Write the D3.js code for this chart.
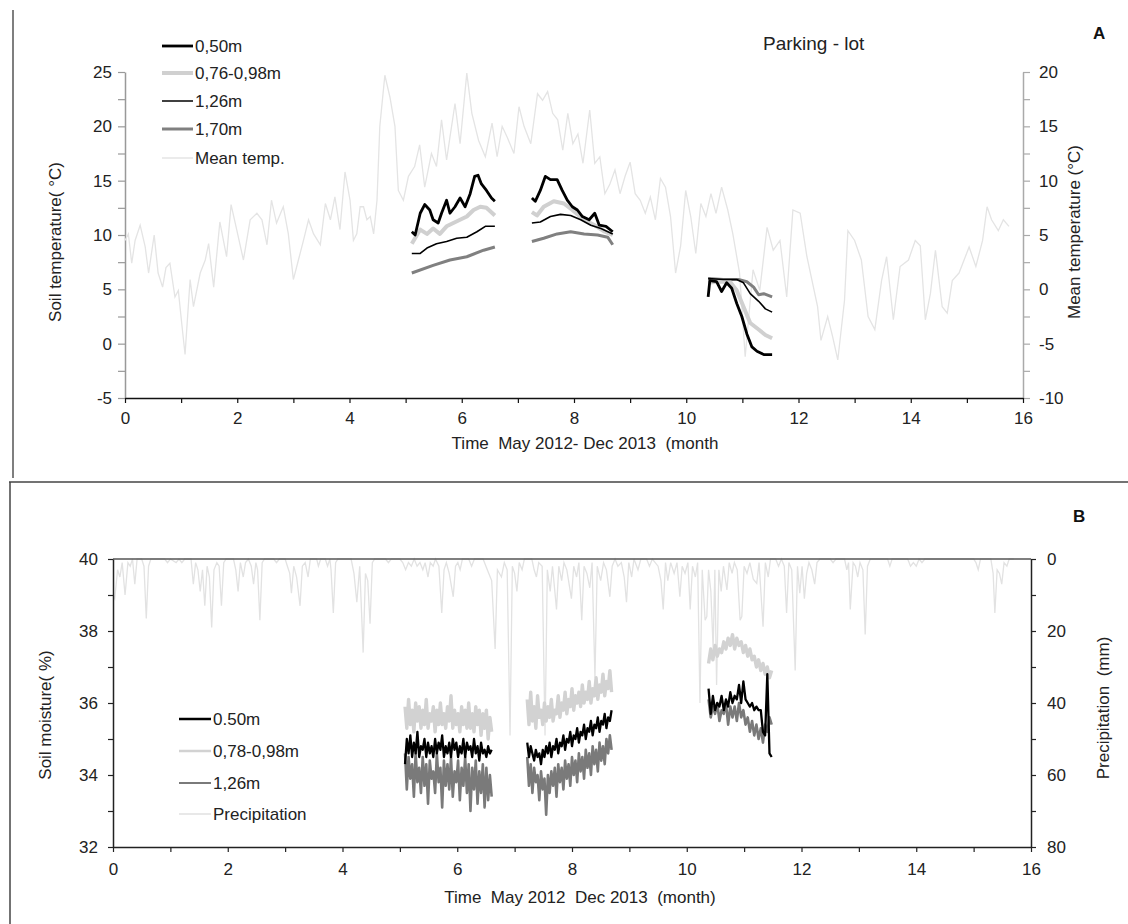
<!DOCTYPE html>
<html><head><meta charset="utf-8">
<script src="https://cdn.jsdelivr.net/npm/d3@7"></script>
<style>
body{margin:0;background:#fff;}
svg{display:block;font-family:"Liberation Sans",Arial,sans-serif;}
</style></head>
<body><svg id="chart" width="1128" height="924"></svg>
<script>
// ---------- DATA ----------
// Panel A: mean air temperature (right axis, °C) [month, value]
const meanTemp = [[0,4.5],[0.06,5.1],[0.12,2.4],[0.18,4.5],[0.27,5.9],[0.36,3.9],[0.42,1.5],[0.52,5],[0.59,1.5],[0.67,0.2],[0.73,2.0],[0.80,2.4],[0.89,-0.7],[0.95,-0.1],[1.01,-3.1],[1.07,-6.0],[1.16,0.9],[1.22,-1.6],[1.34,1.5],[1.43,2.7],[1.49,4.2],[1.58,0.2],[1.69,6.2],[1.81,3],[1.89,7.8],[1.99,5.5],[2.11,2.7],[2.23,6.4],[2.35,7],[2.44,6.4],[2.53,4.1],[2.61,8.2],[2.70,6.1],[2.82,7.6],[2.91,5.1],[3.0,0.9],[3.09,2.7],[3.18,4.5],[3.27,6.4],[3.36,5.1],[3.48,4.1],[3.57,7.9],[3.66,6.4],[3.74,8.5],[3.83,5.5],[3.92,10.8],[4.01,8.2],[4.07,4.5],[4.13,5.1],[4.19,7.6],[4.25,7.6],[4.31,6.4],[4.37,6.7],[4.43,5.1],[4.49,8.2],[4.54,15],[4.63,19.7],[4.72,17.7],[4.81,15],[4.87,9.1],[4.96,8.2],[5.05,10.4],[5.16,11.3],[5.25,13.3],[5.34,9.4],[5.46,12.5],[5.55,11.3],[5.64,15.6],[5.73,11.9],[5.79,14],[5.88,17.1],[5.97,13.4],[6.09,19.9],[6.18,16.2],[6.30,13.7],[6.42,12.2],[6.54,15.3],[6.63,12.2],[6.72,15],[6.81,14],[6.93,12.5],[7.02,16.8],[7.11,15],[7.23,13.4],[7.35,18],[7.44,17.4],[7.53,18.2],[7.62,16.2],[7.71,15.6],[7.80,12.8],[7.89,16.2],[7.98,13.4],[8.07,14.3],[8.16,11.6],[8.28,16.5],[8.37,11.6],[8.46,12.2],[8.55,8.8],[8.64,9.7],[8.73,11],[8.82,8.8],[8.91,10.4],[9.0,11.7],[9.09,8.8],[9.18,8.2],[9.27,7],[9.36,8.5],[9.45,6.4],[9.54,10.2],[9.63,9.4],[9.72,6.7],[9.81,1.5],[9.90,4],[9.99,9.1],[10.08,6.7],[10.17,3.3],[10.26,7.9],[10.35,6.7],[10.44,8.8],[10.53,7],[10.63,9.4],[10.74,7.3],[10.83,5.1],[10.95,1.5],[11.05,-6.2],[11.19,1.8],[11.31,-0.1],[11.44,5.7],[11.55,3.6],[11.67,4.5],[11.79,-0.7],[11.9,7.3],[12.03,7],[12.15,3],[12.34,-1.6],[12.40,-4.7],[12.52,-2.5],[12.61,-4.4],[12.70,-6.5],[12.82,-1],[12.88,5.4],[13.0,4.5],[13.12,2.7],[13.24,-2.5],[13.36,-3.7],[13.48,0.8],[13.57,3],[13.69,-2.8],[13.81,2.1],[13.96,2.7],[14.08,4.5],[14.17,4],[14.26,-2.8],[14.35,-0.4],[14.44,3.6],[14.56,-1.6],[14.65,-2.2],[14.74,0.8],[14.86,1.5],[15.04,3.9],[15.16,2.1],[15.28,4.5],[15.36,7.6],[15.44,6.4],[15.56,5.4],[15.65,6.4],[15.75,5.8]];

// Panel A: soil temperature (left axis, °C), segments of [month, value]
const soil050 = [
  [[5.11,10.3],[5.17,10.0],[5.26,12.0],[5.34,12.8],[5.43,12.3],[5.49,11.4],[5.58,11.1],[5.64,12.0],[5.73,13.2],[5.79,12.0],[5.88,12.6],[5.97,13.4],[6.06,12.6],[6.15,13.8],[6.23,15.4],[6.29,15.5],[6.35,14.7],[6.44,14.1],[6.53,13.4],[6.59,13.1]],
  [[7.25,13.4],[7.31,13.1],[7.40,14.1],[7.49,15.4],[7.58,15.1],[7.70,15.1],[7.79,14.1],[7.88,13.2],[7.97,12.6],[8.06,12.3],[8.15,11.7],[8.27,11.4],[8.37,12.0],[8.45,10.9],[8.57,10.8],[8.69,10.3]],
  [[10.39,4.3],[10.42,5.8],[10.54,5.7],[10.63,4.8],[10.72,5.6],[10.81,5.1],[10.90,3.7],[10.99,2.5],[11.08,0.9],[11.17,-0.3],[11.26,-0.7],[11.38,-1.0],[11.53,-1.0]]
];
const soil076 = [
  [[5.11,9.2],[5.26,10.5],[5.38,10.1],[5.49,10.6],[5.61,10.1],[5.73,10.8],[5.85,11.1],[5.97,11.4],[6.09,11.7],[6.21,12.3],[6.33,12.6],[6.44,12.5],[6.59,11.8]],
  [[7.25,12.1],[7.34,11.8],[7.46,12.6],[7.64,13.1],[7.82,12.9],[7.97,12.3],[8.18,11.4],[8.37,10.9],[8.55,10.3],[8.69,10.0]],
  [[10.39,5.6],[10.54,5.7],[10.78,5.7],[10.90,4.9],[11.02,3.4],[11.14,1.9],[11.29,1.3],[11.41,0.8],[11.53,0.5]]
];
const soil126 = [
  [[5.11,8.3],[5.26,8.3],[5.38,8.8],[5.55,9.2],[5.73,9.4],[5.91,9.7],[6.09,9.8],[6.27,10.3],[6.42,10.8],[6.59,10.8]],
  [[7.25,11.1],[7.40,11.2],[7.58,11.7],[7.76,11.9],[7.94,11.8],[8.12,11.4],[8.30,10.9],[8.48,10.6],[8.69,10.1]],
  [[10.39,6.0],[10.66,5.9],[10.90,5.9],[11.02,5.6],[11.14,4.6],[11.29,3.9],[11.41,3.2],[11.53,2.9]]
];
const soil170 = [
  [[5.11,6.5],[5.49,7.2],[5.79,7.7],[6.09,8.0],[6.39,8.6],[6.59,8.9]],
  [[7.25,9.4],[7.46,9.7],[7.70,10.1],[7.94,10.3],[8.18,10.1],[8.42,10.0],[8.60,9.8],[8.69,9.1]],
  [[10.39,6.0],[10.66,5.9],[10.93,5.9],[11.08,5.7],[11.20,5.2],[11.29,4.5],[11.38,4.6],[11.53,4.3]]
];

// Panel B: precipitation (right axis, mm) [month, value]
const precip = [[0,10],[0.03,11],[0.08,3],[0.12,5],[0.16,1],[0.21,10],[0.26,1],[0.30,2],[0.34,0],[0.38,7],[0.42,0],[0.5,0],[0.54,2],[0.58,16.5],[0.62,2],[0.66,0],[0.9,0],[0.95,1],[1.0,0],[1.1,1],[1.15,0],[1.2,1],[1.25,0],[1.36,0],[1.40,7],[1.44,1],[1.48,3],[1.52,9],[1.56,3],[1.60,13],[1.64,2],[1.68,5],[1.72,19],[1.76,3],[1.81,1],[1.85,2],[1.89,13],[1.93,1],[1.97,0],[2.1,0],[2.14,3],[2.18,9],[2.22,1],[2.27,5],[2.31,1],[2.36,0],[2.41,2],[2.45,7],[2.49,1],[2.52,3],[2.56,17],[2.60,1],[2.64,0],[2.8,0],[2.85,1],[2.9,0],[3.0,0],[3.04,2],[3.08,4],[3.11,9.5],[3.15,2],[3.2,5],[3.26,13],[3.3,2],[3.35,1],[3.40,5],[3.44,0],[3.55,0],[3.58,2],[3.62,0],[3.7,0],[3.74,2],[3.78,0],[3.8,3],[3.84,15],[3.88,1],[3.92,0],[4.15,0],[4.2,4],[4.25,12],[4.3,2],[4.36,26],[4.40,4],[4.44,6],[4.48,18],[4.52,1],[4.56,0],[4.75,0],[4.8,1],[4.85,0],[5.0,0],[5.05,1],[5.1,3],[5.15,1],[5.2,2],[5.25,0],[5.3,2],[5.35,1],[5.4,3],[5.44,1],[5.49,5],[5.53,1],[5.58,2],[5.62,0],[5.68,2],[5.73,15],[5.77,3],[5.81,1],[5.86,4],[5.93,10.5],[5.97,2],[6.01,1],[6.05,3],[6.09,0],[6.2,0],[6.25,2],[6.3,0],[6.45,0],[6.5,2],[6.55,4],[6.6,6],[6.66,25],[6.7,3],[6.77,5],[6.82,1],[6.87,3],[6.92,49],[6.96,2],[7.0,4],[7.04,9],[7.08,1],[7.13,3],[7.17,0],[7.3,0],[7.34,3],[7.38,5],[7.42,1],[7.48,2],[7.53,49],[7.57,3],[7.62,9],[7.66,2],[7.73,14],[7.77,2],[7.82,6],[7.86,1],[7.91,3],[7.99,11],[8.03,2],[8.08,5],[8.12,1],[8.17,17],[8.21,2],[8.26,4],[8.31,8],[8.35,1],[8.40,33],[8.44,2],[8.5,6],[8.55,1],[8.6,3],[8.66,10.5],[8.7,2],[8.75,0],[8.8,2],[8.86,1],[8.91,5],[8.95,12],[8.99,1],[9.04,5],[9.08,0],[9.15,3],[9.2,0],[9.3,0],[9.35,2],[9.4,0],[9.5,2],[9.55,6],[9.59,14],[9.63,1],[9.67,6],[9.72,1],[9.78,4],[9.83,1],[9.88,10.5],[9.92,2],[9.97,4],[10.02,1],[10.06,14],[10.1,2],[10.15,5],[10.19,1],[10.23,40],[10.27,3],[10.32,17],[10.35,16],[10.38,3],[10.42,9],[10.46,25],[10.49,3],[10.52,35],[10.56,3],[10.6,9],[10.64,2],[10.7,8.6],[10.74,1],[10.79,4],[10.83,1],[10.88,3],[10.93,17],[10.96,16],[11.0,2],[11.05,4],[11.1,1],[11.16,5.6],[11.22,6.8],[11.26,1],[11.33,18.8],[11.37,1],[11.42,5],[11.46,0],[11.55,0],[11.6,2],[11.65,0],[11.7,2],[11.74,15],[11.78,1],[11.83,3],[11.89,31],[11.93,2],[11.97,9.5],[12.01,2],[12.05,11],[12.09,4],[12.13,1],[12.18,3],[12.23,7],[12.27,1],[12.32,0],[12.5,0],[12.55,1],[12.6,0],[12.75,0],[12.79,3],[12.82,1],[12.85,14],[12.9,1],[12.94,2],[12.98,5],[13.02,1],[13.07,3],[13.11,21],[13.15,2],[13.2,0],[13.5,0],[13.54,2],[13.58,0],[13.85,0],[13.9,2],[13.95,1],[14.0,2],[14.05,0],[14.1,1],[14.15,0],[15.0,0],[15.04,1],[15.08,3],[15.12,0],[15.3,0],[15.34,4],[15.37,15],[15.41,3],[15.45,4],[15.49,7],[15.53,1],[15.58,2],[15.62,0],[15.7,0]];

// Panel B: soil moisture (%), logging periods [start month, end month] and readings
const moistPeriods = [[5.09,6.60],[7.22,8.69],[10.38,11.48]];
const moist050 = [
  [34.3,35.0,34.6,35.1,34.5,34.9,34.6,35.2,34.5,34.8,34.7,35.0,34.5,34.9,34.6,34.8,34.5,35.0,34.6,34.9,34.7,35.1,34.5,34.8,34.6,34.9,34.5,35.0,34.7,34.9,34.5,34.8,34.6,35.0,34.5,34.9,34.7,34.8,34.5,35.0,34.6,34.8,34.4,34.9,34.6,34.7,34.5,34.8,34.6,34.7],
  [34.9,34.5,34.8,34.6,34.4,34.7,34.5,34.6,34.3,34.7,34.5,34.8,34.6,34.9,34.5,34.8,34.7,35.0,34.6,34.9,34.8,35.1,34.7,35.0,34.9,35.2,34.8,35.1,35.0,35.3,34.9,35.2,35.1,35.4,35.0,35.3,35.2,35.5,35.1,35.4,35.3,35.6,35.2,35.5,35.4,35.7,35.3,35.6,35.5,35.8],
  [36.4,35.7,36.2,35.8,36.0,35.9,36.2,35.8,36.1,35.9,36.3,36.0,36.2,36.1,36.5,36.0,36.6,36.1,36.0,35.9,36.0,35.8,35.9,35.8,35.8,35.2,35.1,36.8,34.6,34.5]
];
const moist078 = [
  [35.9,35.3,36.1,35.4,35.8,35.2,36.0,35.5,35.9,35.3,35.8,35.4,36.1,35.3,35.7,35.5,35.9,35.2,35.8,35.4,36.0,35.4,35.7,35.3,35.9,35.5,36.2,35.3,35.8,35.4,35.7,35.2,35.9,35.4,35.8,35.3,36.0,35.3,35.7,35.2,35.9,35.4,35.8,35.1,35.7,35.3,35.8,35.0,35.6,35.2],
  [36.1,35.4,36.3,35.5,35.9,35.3,36.2,35.6,35.8,35.4,36.0,35.5,35.9,35.6,36.1,35.5,35.8,35.7,36.2,35.6,36.0,35.8,36.3,35.7,36.1,35.9,36.4,35.8,36.2,36.0,36.3,35.9,36.5,36.0,36.3,36.1,36.6,36.0,36.4,36.2,36.7,36.1,36.5,36.3,36.8,36.2,36.6,36.4,36.9,36.3],
  [37.1,37.5,37.2,37.6,37.3,37.5,37.4,37.7,37.5,37.8,37.6,37.9,37.5,37.8,37.6,37.7,37.4,37.6,37.3,37.5,37.2,37.3,37.0,37.2,36.9,37.1,36.8,37.0,36.7,36.9]
];
const moist126 = [
  [34.6,33.6,34.5,33.9,34.3,33.4,34.6,33.8,34.2,33.5,34.5,33.7,34.3,33.2,34.4,33.9,34.1,33.5,34.6,33.8,34.2,33.1,34.4,33.7,34.3,33.6,34.5,33.4,34.1,33.8,34.4,33.3,34.2,33.7,34.5,33.5,34.3,33.0,34.2,33.6,34.4,33.2,34.1,33.5,34.3,33.1,34.2,33.3,34.0,33.4],
  [34.5,33.7,34.3,33.5,34.2,33.8,34.0,33.3,34.1,33.6,33.9,32.9,34.0,33.5,34.1,33.7,34.2,33.4,34.3,33.8,34.2,33.6,34.4,33.9,34.3,33.7,34.5,34.0,34.4,33.8,34.6,34.1,34.5,33.9,34.7,34.2,34.6,34.0,34.8,34.3,34.7,34.1,34.9,34.4,34.8,34.3,35.0,34.6,35.1,34.7],
  [36.1,35.6,35.9,35.7,36.0,35.5,35.8,35.7,36.0,35.4,35.9,35.6,35.9,35.5,36.0,35.6,35.8,35.4,35.6,35.2,35.5,35.1,35.4,35.0,35.3,34.9,35.4,35.2,35.6,35.4]
];

// Axis ticks
const monthTicks = [0,1,2,3,4,5,6,7,8,9,10,11,12,13,14,15,16];
const monthLabels = [0,2,4,6,8,10,12,14,16];
const soilTempTicks = [-5,-2.5,0,2.5,5,7.5,10,12.5,15,17.5,20,22.5,25];
const soilTempLabels = [-5,0,5,10,15,20,25];
const meanTempTicks = [-10,-7.5,-5,-2.5,0,2.5,5,7.5,10,12.5,15,17.5,20];
const meanTempLabels = [-10,-5,0,5,10,15,20];
const moistTicks = [32,33,34,35,36,37,38,39,40];
const moistLabels = [32,34,36,38,40];
const precTicks = [0,10,20,30,40,50,60,70,80];
const precLabels = [0,20,40,60,80];

// ---------- DRAWING ----------
const svg = d3.select("#chart");
const FS = 17;

// frames
svg.append("line").attr("x1",13).attr("x2",13).attr("y1",10).attr("y2",478).attr("stroke","#555").attr("stroke-width",1.5);
svg.append("line").attr("x1",9).attr("x2",1128).attr("y1",482).attr("y2",482).attr("stroke","#444").attr("stroke-width",1.5);
svg.append("line").attr("x1",10).attr("x2",10).attr("y1",482).attr("y2",924).attr("stroke","#444").attr("stroke-width",1.5);

// ===== Panel A =====
const xA = d3.scaleLinear([0,16],[125,1023]);
const yAL = d3.scaleLinear([-5,25],[398,72]);
const yAR = d3.scaleLinear([-10,20],[398,72]);

const lineA_L = d3.line().x(d=>xA(d[0])).y(d=>yAL(d[1]));
const lineA_R = d3.line().x(d=>xA(d[0])).y(d=>yAR(d[1]));

function styleAxis(g, lineColor, textColor){
  g.select(".domain").attr("stroke",lineColor).attr("stroke-width",1.5);
  g.selectAll(".tick line").attr("stroke",lineColor).attr("stroke-width",1.2);
  g.selectAll(".tick text").attr("fill",textColor).style("font-size",FS+"px").style("font-family","Liberation Sans, Arial, sans-serif");
}

const gAL = svg.append("g").attr("transform","translate(125,0)")
  .call(d3.axisLeft(yAL).tickValues(soilTempTicks).tickSize(7).tickSizeOuter(0).tickPadding(6)
    .tickFormat(d=>soilTempLabels.includes(d)?d:""));
styleAxis(gAL,"#999","#222");
const gAR = svg.append("g").attr("transform","translate(1023,0)")
  .call(d3.axisRight(yAR).tickValues(meanTempTicks).tickSize(7).tickSizeOuter(0).tickPadding(9)
    .tickFormat(d=>meanTempLabels.includes(d)?d:""));
styleAxis(gAR,"#aaa","#222");

// mean temp
svg.append("path").datum(meanTemp).attr("d",lineA_R).attr("fill","none").attr("stroke","#e4e4e4").attr("stroke-width",1.3);

const gAB = svg.append("g").attr("transform","translate(0,398)")
  .call(d3.axisBottom(xA).tickValues(monthTicks).tickSize(5).tickSizeOuter(0).tickPadding(9)
    .tickFormat(d=>monthLabels.includes(d)?d:""));
styleAxis(gAB,"#111","#222");

// soil temperature series
const seriesA = [
  {data:soil170, color:"#808080", w:3},
  {data:soil076, color:"#d0d0d0", w:4},
  {data:soil126, color:"#000", w:1.6},
  {data:soil050, color:"#000", w:2.8}
];
seriesA.forEach(s=>{
  s.data.forEach(seg=>{
    svg.append("path").datum(seg).attr("d",lineA_L).attr("fill","none")
      .attr("stroke",s.color).attr("stroke-width",s.w).attr("stroke-linejoin","round");
  });
});

// legend A
const legA = [
  {label:"0,50m", color:"#000", w:2.8},
  {label:"0,76-0,98m", color:"#d0d0d0", w:4},
  {label:"1,26m", color:"#000", w:1.5},
  {label:"1,70m", color:"#808080", w:3},
  {label:"Mean temp.", color:"#e0e0e0", w:1.3}
];
const legAY = [46,73,101,129,158];
legA.forEach((l,i)=>{
  svg.append("line").attr("x1",162).attr("x2",193).attr("y1",legAY[i]).attr("y2",legAY[i]).attr("stroke",l.color).attr("stroke-width",l.w);
  svg.append("text").attr("x",195).attr("y",legAY[i]+6).text(l.label).style("font-size",FS+"px").attr("fill","#222");
});

// titles A
svg.append("text").attr("x",763).attr("y",50).text("Parking - lot").style("font-size","19px").attr("fill","#222");
svg.append("text").attr("x",1093).attr("y",39).text("A").style("font-size","17px").style("font-weight","bold").attr("fill","#111");
svg.append("text").attr("transform","translate(61,242) rotate(-90)").attr("text-anchor","middle").text("Soil temperature( °C)").style("font-size",FS+"px").attr("fill","#222");
svg.append("text").attr("transform","translate(1080,232) rotate(-90)").attr("text-anchor","middle").text("Mean temperature (°C)").style("font-size",FS+"px").attr("fill","#222");
svg.append("text").attr("x",585).attr("y",449).attr("text-anchor","middle").text("Time  May 2012- Dec 2013  (month").style("font-size",FS+"px").attr("fill","#222").style("white-space","pre");

// ===== Panel B =====
const xB = d3.scaleLinear([0,16],[113,1031]);
const yBL = d3.scaleLinear([32,40],[847,559]);
const yBR = d3.scaleLinear([0,80],[559,847]);

// precipitation
svg.append("path").datum(precip).attr("d",d3.line().x(d=>xB(d[0])).y(d=>yBR(d[1])))
  .attr("fill","none").attr("stroke","#e2e2e2").attr("stroke-width",1.3);
// top frame line
svg.append("line").attr("x1",113).attr("x2",1031).attr("y1",559).attr("y2",559).attr("stroke","#555").attr("stroke-width",1.3);

// soil moisture series
const seriesB = [
  {data:moist078, color:"#d2d2d2", w:3.4},
  {data:moist126, color:"#7a7a7a", w:2.6},
  {data:moist050, color:"#000", w:2.3}
];
seriesB.forEach(s=>{
  s.data.forEach((vals,k)=>{
    const [t0,t1] = moistPeriods[k];
    const tx = d3.scaleLinear([0, vals.length-1],[t0,t1]);
    svg.append("path").datum(vals)
      .attr("d", d3.line().x((d,i)=>xB(tx(i))).y(d=>yBL(d)))
      .attr("fill","none").attr("stroke",s.color).attr("stroke-width",s.w).attr("stroke-linejoin","round");
  });
});

const gBL = svg.append("g").attr("transform","translate(113,0)")
  .call(d3.axisLeft(yBL).tickValues(moistTicks).tickSize(5).tickSizeOuter(0).tickPadding(10)
    .tickFormat(d=>moistLabels.includes(d)?d:""));
styleAxis(gBL,"#222","#222");
const gBR = svg.append("g").attr("transform","translate(1031,0)")
  .call(d3.axisRight(yBR).tickValues(precTicks).tickSize(5).tickSizeOuter(0).tickPadding(11)
    .tickFormat(d=>precLabels.includes(d)?d:""));
styleAxis(gBR,"#222","#222");
const gBB = svg.append("g").attr("transform","translate(0,847)")
  .call(d3.axisBottom(xB).tickValues(monthTicks).tickSize(5).tickSizeOuter(0).tickPadding(11)
    .tickFormat(d=>monthLabels.includes(d)?d:""));
styleAxis(gBB,"#222","#222");

// legend B
const legB = [
  {label:"0.50m", color:"#000", w:2.5},
  {label:"0,78-0,98m", color:"#d2d2d2", w:2.5},
  {label:"1,26m", color:"#7a7a7a", w:2},
  {label:"Precipitation", color:"#e0e0e0", w:1.5}
];
const legBY = [719,751,783,814];
legB.forEach((l,i)=>{
  svg.append("line").attr("x1",179).attr("x2",211).attr("y1",legBY[i]).attr("y2",legBY[i]).attr("stroke",l.color).attr("stroke-width",l.w);
  svg.append("text").attr("x",213).attr("y",legBY[i]+6).text(l.label).style("font-size",FS+"px").attr("fill","#222");
});

svg.append("text").attr("x",1073).attr("y",522).text("B").style("font-size","17px").style("font-weight","bold").attr("fill","#111");
svg.append("text").attr("transform","translate(51,715) rotate(-90)").attr("text-anchor","middle").text("Soil moisture( %)").style("font-size",FS+"px").attr("fill","#222");
svg.append("text").attr("transform","translate(1109,708) rotate(-90)").attr("text-anchor","middle").text("Precipitation  (mm)").style("font-size",FS+"px").attr("fill","#222").style("white-space","pre");
svg.append("text").attr("x",580).attr("y",903).attr("text-anchor","middle").text("Time  May 2012  Dec 2013  (month)").style("font-size",FS+"px").attr("fill","#222").style("white-space","pre");
</script></body></html>
